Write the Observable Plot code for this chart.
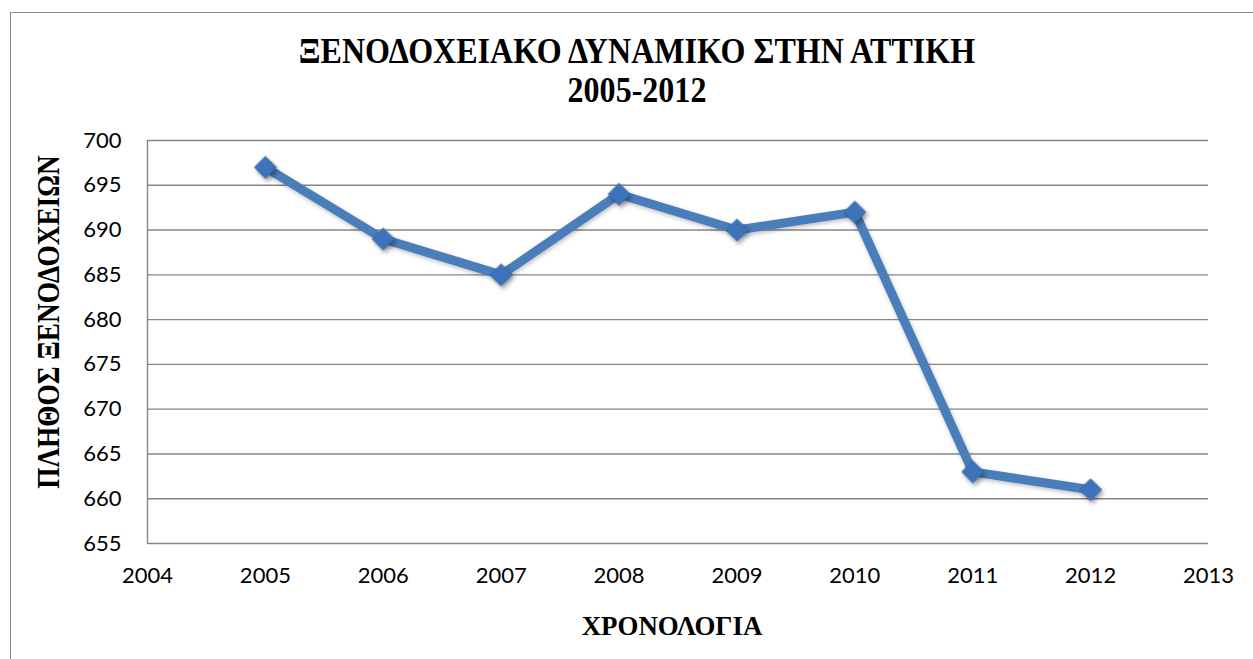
<!DOCTYPE html>
<html>
<head>
<meta charset="utf-8">
<script src="https://cdn.jsdelivr.net/npm/d3@7"></script>
<script src="https://cdn.jsdelivr.net/npm/@observablehq/plot@0.6"></script>
<style>
  html, body { margin: 0; padding: 0; background: #fff; }
  #wrap { position: relative; width: 1253px; height: 659px; overflow: hidden; background: #fff; }
  #frame { position: absolute; left: 10px; top: 12px; width: 1400px; height: 800px; border: 1.5px solid #8a8a8a; box-sizing: border-box; }
  .t { position: absolute; white-space: nowrap; font-family: "Liberation Serif", "Times New Roman", serif; font-weight: bold; color: #000; }
  #title { left: 637px; top: 32px; font-size: 36px; line-height: 39px; text-align: center; transform: translateX(-50%) scaleX(0.89); }
  #ylab { left: 48px; top: 322px; font-size: 31px; line-height: 31px; transform: translate(-50%, -50%) rotate(-90deg) scaleX(0.88); }
  #xlab { left: 672px; top: 626px; font-size: 28px; line-height: 28px; transform: translate(-50%, -50%) scaleX(0.96); }
  #plot { position: absolute; left: 0; top: 0; }
</style>
</head>
<body>
<div id="wrap">
  <div id="frame"></div>
  <div id="plot"></div>
  <div id="title" class="t">ΞΕΝΟΔΟΧΕΙΑΚΟ ΔΥΝΑΜΙΚΟ ΣΤΗΝ ΑΤΤΙΚΗ<br>2005-2012</div>
  <div id="ylab" class="t">ΠΛΗΘΟΣ ΞΕΝΟΔΟΧΕΙΩΝ</div>
  <div id="xlab" class="t">ΧΡΟΝΟΛΟΓΙΑ</div>
</div>
<script>
const years = [2005, 2006, 2007, 2008, 2009, 2010, 2011, 2012];
const hotels = [697, 689, 685, 694, 690, 692, 663, 661];
const xTicks = [2004, 2005, 2006, 2007, 2008, 2009, 2010, 2011, 2012, 2013];
const yTicks = [655, 660, 665, 670, 675, 680, 685, 690, 695, 700];

const data = years.map((y, i) => ({year: y, value: hotels[i]}));

const chart = Plot.plot({
  width: 1253,
  height: 659,
  marginLeft: 147,
  marginRight: 45,
  marginTop: 140,
  marginBottom: 116,
  style: { fontFamily: "Lato, 'Open Sans', sans-serif", fontSize: "22px", color: "#000", background: "transparent", overflow: "visible" },
  x: { domain: [2004, 2013], label: null, ticks: xTicks, tickFormat: d => String(d), tickSize: 0, tickPadding: 24 },
  y: { domain: [655, 700], label: null, ticks: yTicks, tickSize: 0, tickPadding: 26 },
  marks: [
    Plot.ruleY(yTicks, { stroke: "#868686", strokeWidth: 1.4 }),
    Plot.ruleX([2004], { stroke: "#868686", strokeWidth: 1.4 }),
    Plot.line(data, { x: "year", y: "value", stroke: "#4a7ebb", strokeWidth: 9, strokeLinejoin: "miter" }),
    Plot.dot(data, { x: "year", y: "value", symbol: "diamond2", r: 10, fill: "#3c73b9", stroke: "#3566a8", strokeWidth: 0.8 })
  ]
});
document.getElementById("plot").appendChild(chart);
d3.select(chart).selectAll('g[aria-label="line"]').style("filter", "drop-shadow(1px 2px 2px rgba(0,0,0,0.25))");
d3.select(chart).selectAll('g[aria-label="dot"]').style("filter", "drop-shadow(2px 3px 2px rgba(0,0,0,0.35))");
</script>
</body>
</html>
